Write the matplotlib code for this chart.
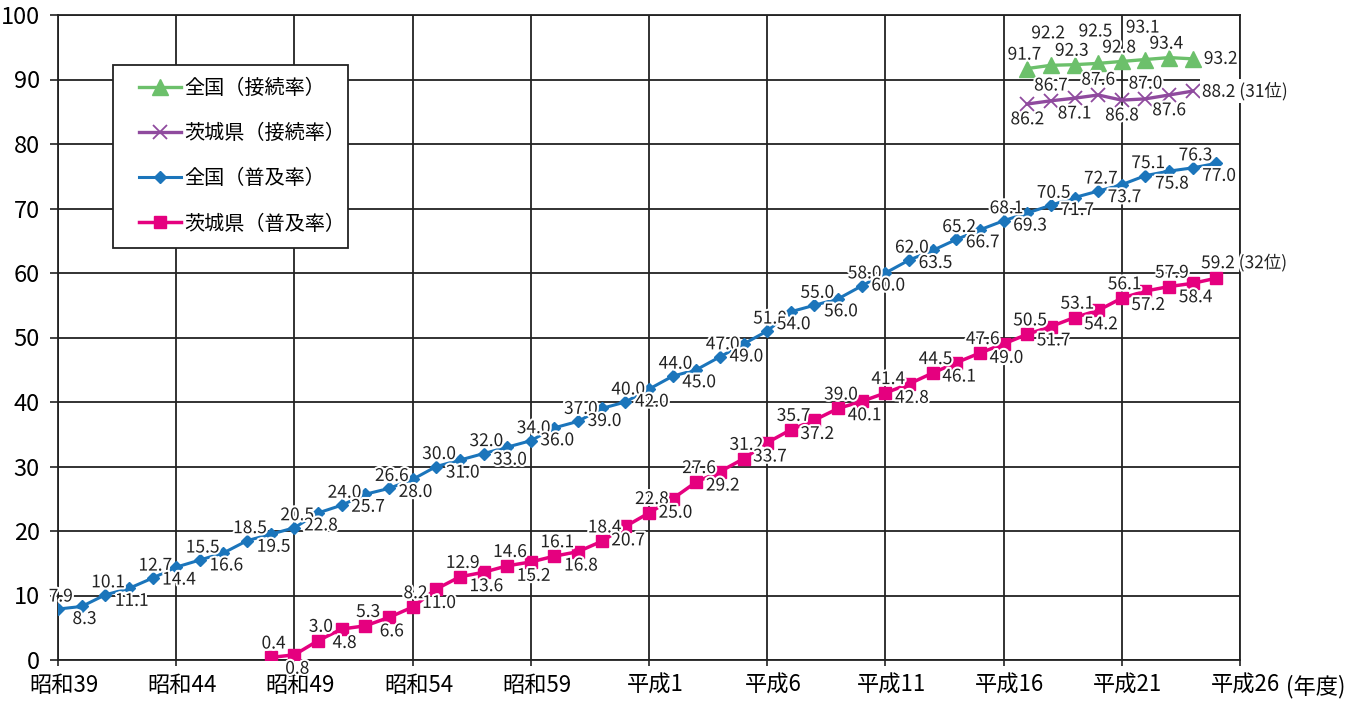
import numpy as np
import matplotlib
matplotlib.use('Agg')
import matplotlib.pyplot as plt
import matplotlib.patheffects as pe
import matplotlib.transforms as mtransforms
from matplotlib.patches import Rectangle

plt.rcParams['font.family'] = ['Noto Sans CJK JP', 'DejaVu Sans']

# 年度 (西暦) と各系列の値
years_all = list(range(1964, 2014))
zenkoku_fukyu = [7.9, 8.3, 10.1, 11.1, 12.7, 14.4, 15.5, 16.6, 18.5, 19.5,
                 20.5, 22.8, 24.0, 25.7, 26.6, 28.0, 30.0, 31.0, 32.0, 33.0,
                 34.0, 36.0, 37.0, 39.0, 40.0, 42.0, 44.0, 45.0, 47.0, 49.0,
                 51.0, 54.0, 55.0, 56.0, 58.0, 60.0, 62.0, 63.5, 65.2, 66.7,
                 68.1, 69.3, 70.5, 71.7, 72.7, 73.7, 75.1, 75.8, 76.3, 77.0]

years_ibaraki = list(range(1973, 2014))
ibaraki_fukyu = [0.4, 0.8, 3.0, 4.8, 5.3, 6.6, 8.2, 11.0, 12.9, 13.6,
                 14.6, 15.2, 16.1, 16.8, 18.4, 20.7, 22.8, 25.0, 27.6, 29.2,
                 31.2, 33.7, 35.7, 37.2, 39.0, 40.1, 41.4, 42.8, 44.5, 46.1,
                 47.6, 49.0, 50.5, 51.7, 53.1, 54.2, 56.1, 57.2, 57.9, 58.4, 59.2]

years_setsuzoku = list(range(2005, 2013))
zenkoku_setsuzoku = [91.7, 92.2, 92.3, 92.5, 92.8, 93.1, 93.4, 93.2]
ibaraki_setsuzoku = [86.2, 86.7, 87.1, 87.6, 86.8, 87.0, 87.6, 88.2]

tick_years = list(range(1964, 2015, 5))
tick_labels = ['昭和39', '昭和44', '昭和49', '昭和54', '昭和59', '平成1',
               '平成6', '平成11', '平成16', '平成21', '平成26']

c_green = '#6cc06b'
c_purple = '#8f4a9e'
c_blue = '#1b75bb'
c_pink = '#e5007f'
c_grid = '#222222'

W, H = 1356, 702
L, R, T, B = 58, 1240, 15, 660

fig = plt.figure(figsize=(W / 100, H / 100), dpi=100)
ax = fig.add_axes([L / W, 1 - B / H, (R - L) / W, (B - T) / H])

ax.plot(years_setsuzoku, zenkoku_setsuzoku, color=c_green, lw=2.4, marker='^',
        ms=11, label='全国（接続率）', zorder=5)
ax.plot(years_setsuzoku, ibaraki_setsuzoku, color=c_purple, lw=2.4, marker='x',
        ms=10, mew=1.3, label='茨城県（接続率）', zorder=5)
ax.plot(years_all, zenkoku_fukyu, color=c_blue, lw=2.2, marker='D',
        ms=6.5, label='全国（普及率）', zorder=5)
ax.plot(years_ibaraki, ibaraki_fukyu, color=c_pink, lw=2.5, marker='s',
        ms=8, label='茨城県（普及率）', zorder=5)

ax.set_xlim(1964, 2014)
ax.set_ylim(0, 100)
ax.set_xticks(tick_years)
ax.set_xticklabels(tick_labels)
ax.set_yticks(range(0, 101, 10))
ax.tick_params(axis='y', labelsize=17, length=6, width=1.2, pad=7, color=c_grid)
ax.tick_params(axis='x', labelsize=16, length=4, width=1.2, pad=6, color=c_grid)
shift = mtransforms.ScaledTranslation(6 / 100, 0, fig.dpi_scale_trans)
for lab in ax.get_xticklabels():
    lab.set_transform(lab.get_transform() + shift)
ax.grid(True, color=c_grid, lw=1.3, zorder=1)
for s in ax.spines.values():
    s.set_color(c_grid)
    s.set_linewidth(1.3)

ax.text((1286 - L) / (R - L), -0.0235, '(年度)', transform=ax.transAxes,
        ha='left', va='top', fontsize=16)

stroke = [pe.withStroke(linewidth=3, foreground='white')]
fs = 12.5


def put(x, y, txt, dx, dy, ha='center'):
    ax.annotate(txt, (x, y), xytext=(dx, dy), textcoords='offset points',
                ha=ha, va='center', fontsize=fs, color=c_grid,
                path_effects=stroke, zorder=6, annotation_clip=False)


# 普及率: 上下交互
for i, (x, v) in enumerate(zip(years_all, zenkoku_fukyu)):
    put(x, v, f'{v:.1f}', 2, 9 if i % 2 == 0 else -9)
for i, (x, v) in enumerate(zip(years_ibaraki, ibaraki_fukyu)):
    if i == len(ibaraki_fukyu) - 1:
        put(x, v, f'{v:.1f} (32位)', -11, 11, ha='left')
        continue
    put(x, v, f'{v:.1f}', 2, 10 if i % 2 == 0 else -10)

# 接続率
for i, (x, v) in enumerate(zip(years_setsuzoku, zenkoku_setsuzoku)):
    if i == len(zenkoku_setsuzoku) - 1:
        put(x, v, f'{v:.1f}', 8, 0, ha='left')
        continue
    put(x, v, f'{v:.1f}', -2, 10 if i % 2 == 0 else 23)
for i, (x, v) in enumerate(zip(years_setsuzoku, ibaraki_setsuzoku)):
    if i == len(ibaraki_setsuzoku) - 1:
        ax.annotate(f'{v:.1f} (31位)', (x, v), xytext=(7, 0), textcoords='offset points',
                    ha='left', va='center', fontsize=fs, color=c_grid, zorder=6,
                    annotation_clip=False,
                    bbox=dict(boxstyle='square,pad=0.15', fc='white', ec='none'))
        continue
    put(x, v, f'{v:.1f}', 0, -11 if i % 2 == 0 else 11)

# 凡例: 枠は別に描く
box = Rectangle(((113 - L) / (R - L), (B - 248) / (B - T)), (348 - 113) / (R - L),
                (248 - 65) / (B - T), transform=ax.transAxes, fc='white',
                ec=c_grid, lw=1.3, zorder=7)
ax.add_patch(box)
leg = ax.legend(loc='upper left', bbox_to_anchor=((139 - L) / (R - L), (B - 78) / (B - T)),
                borderaxespad=0, borderpad=0, fontsize=14.5, handlelength=2.1,
                handletextpad=0.15, labelspacing=1.2, frameon=False)
leg.set_zorder(8)

fig.savefig('out.png', dpi=100)
